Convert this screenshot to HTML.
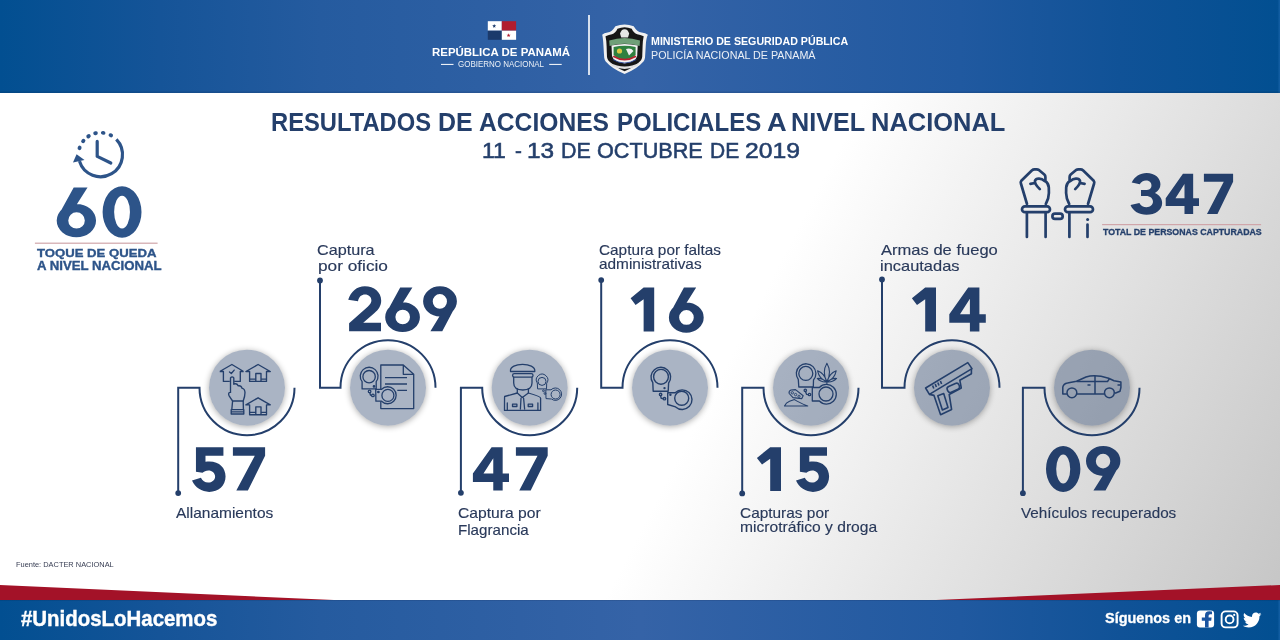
<!DOCTYPE html>
<html><head><meta charset="utf-8"><style>
html,body{margin:0;padding:0;}
body{width:1280px;height:640px;position:relative;overflow:hidden;font-family:"Liberation Sans",sans-serif;
background:linear-gradient(117.4deg,#ffffff 56.8%,#c4c4c4 100%);}
.t{position:absolute;white-space:nowrap;line-height:1;transform-origin:0 0;}
#hdr{position:absolute;left:0;top:0;width:1280px;height:92.5px;box-shadow:inset 0 -1.5px 0 rgba(10,20,50,0.13);background:linear-gradient(90deg,#024f91 0%,#155498 12.5%,#255b9f 25%,#3563a7 50%,#2059a0 75%,#105297 87.5%,#024f91 99.8%,#1560a5 100%);}
#ftr{position:absolute;left:0;top:599.6px;width:1280px;height:40.4px;box-shadow:inset 0 1px 0 rgba(10,20,50,0.12);background:linear-gradient(90deg,#024f91 0%,#155498 12.5%,#255b9f 25%,#3563a7 50%,#2059a0 75%,#105297 87.5%,#024f91 99.8%,#1560a5 100%);}
svg{position:absolute;left:0;top:0;}
</style></head><body>
<div id="hdr"></div>
<div id="ftr"></div>
<svg width="1280" height="640" viewBox="0 0 1280 640">
<defs><filter id="bl" x="-30%" y="-30%" width="160%" height="160%"><feGaussianBlur stdDeviation="3"/></filter><filter id="sh" x="-30%" y="-30%" width="160%" height="160%"><feGaussianBlur in="SourceAlpha" stdDeviation="3"/><feOffset dx="0" dy="1"/><feComponentTransfer><feFuncA type="linear" slope="0.35"/></feComponentTransfer><feMerge><feMergeNode/><feMergeNode in="SourceGraphic"/></feMerge></filter></defs>
<polygon points="0,585 334,600 0,600" fill="#a31228"/>
<polygon points="936,600 1280,585 1280,600" fill="#a31228"/>
<rect x="588.2" y="15" width="1.6" height="60" fill="#fff"/>
<rect x="441" y="63.9" width="12.5" height="1" fill="#fff"/><rect x="549.2" y="63.9" width="12.5" height="1" fill="#fff"/>
<rect x="34.9" y="242.6" width="122.7" height="1.2" fill="#d0a6aa"/>
<rect x="1102.1" y="224" width="159" height="1.2" fill="#d0a6aa"/>
<path d="M178.2 493.1 V387.7 H199.5 A47.5 47.5 0 0 0 294.5 387.7" fill="none" stroke="#243f6b" stroke-width="2"/>
<circle cx="178.2" cy="493.1" r="2.9" fill="#243f6b"/>
<mask id="mk0"><rect x="0" y="0" width="1280" height="640" fill="#fff"/><circle cx="247" cy="387.7" r="38" fill="#000"/></mask>
<circle cx="247" cy="388.7" r="38" fill="#000" opacity="0.33" filter="url(#bl)" mask="url(#mk0)"/>
<circle cx="247" cy="387.7" r="38" fill="rgba(42,67,107,0.4)"/>
<path d="M320 280.5 V387.7 H340.5 A47.5 47.5 0 0 1 435.5 387.7" fill="none" stroke="#243f6b" stroke-width="2"/>
<circle cx="320" cy="280.5" r="2.9" fill="#243f6b"/>
<mask id="mk1"><rect x="0" y="0" width="1280" height="640" fill="#fff"/><circle cx="388" cy="387.7" r="38" fill="#000"/></mask>
<circle cx="388" cy="388.7" r="38" fill="#000" opacity="0.33" filter="url(#bl)" mask="url(#mk1)"/>
<circle cx="388" cy="387.7" r="38" fill="rgba(42,67,107,0.4)"/>
<path d="M460.9 492.8 V387.7 H482.20000000000005 A47.5 47.5 0 0 0 577.2 387.7" fill="none" stroke="#243f6b" stroke-width="2"/>
<circle cx="460.9" cy="492.8" r="2.9" fill="#243f6b"/>
<mask id="mk2"><rect x="0" y="0" width="1280" height="640" fill="#fff"/><circle cx="529.7" cy="387.7" r="38" fill="#000"/></mask>
<circle cx="529.7" cy="388.7" r="38" fill="#000" opacity="0.33" filter="url(#bl)" mask="url(#mk2)"/>
<circle cx="529.7" cy="387.7" r="38" fill="rgba(42,67,107,0.4)"/>
<path d="M601.2 280.1 V387.7 H622.5 A47.5 47.5 0 0 1 717.5 387.7" fill="none" stroke="#243f6b" stroke-width="2"/>
<circle cx="601.2" cy="280.1" r="2.9" fill="#243f6b"/>
<mask id="mk3"><rect x="0" y="0" width="1280" height="640" fill="#fff"/><circle cx="670" cy="387.7" r="38" fill="#000"/></mask>
<circle cx="670" cy="388.7" r="38" fill="#000" opacity="0.33" filter="url(#bl)" mask="url(#mk3)"/>
<circle cx="670" cy="387.7" r="38" fill="rgba(42,67,107,0.4)"/>
<path d="M742.2 493.4 V387.7 H763.5 A47.5 47.5 0 0 0 858.5 387.7" fill="none" stroke="#243f6b" stroke-width="2"/>
<circle cx="742.2" cy="493.4" r="2.9" fill="#243f6b"/>
<mask id="mk4"><rect x="0" y="0" width="1280" height="640" fill="#fff"/><circle cx="811" cy="387.7" r="38" fill="#000"/></mask>
<circle cx="811" cy="388.7" r="38" fill="#000" opacity="0.33" filter="url(#bl)" mask="url(#mk4)"/>
<circle cx="811" cy="387.7" r="38" fill="rgba(42,67,107,0.4)"/>
<path d="M882 279.5 V387.7 H904.5 A47.5 47.5 0 0 1 999.5 387.7" fill="none" stroke="#243f6b" stroke-width="2"/>
<circle cx="882" cy="279.5" r="2.9" fill="#243f6b"/>
<mask id="mk5"><rect x="0" y="0" width="1280" height="640" fill="#fff"/><circle cx="952" cy="387.7" r="38" fill="#000"/></mask>
<circle cx="952" cy="388.7" r="38" fill="#000" opacity="0.33" filter="url(#bl)" mask="url(#mk5)"/>
<circle cx="952" cy="387.7" r="38" fill="rgba(42,67,107,0.4)"/>
<path d="M1022.9 493.2 V387.7 H1044.5 A47.5 47.5 0 0 0 1139.5 387.7" fill="none" stroke="#243f6b" stroke-width="2"/>
<circle cx="1022.9" cy="493.2" r="2.9" fill="#243f6b"/>
<mask id="mk6"><rect x="0" y="0" width="1280" height="640" fill="#fff"/><circle cx="1092" cy="387.7" r="38" fill="#000"/></mask>
<circle cx="1092" cy="388.7" r="38" fill="#000" opacity="0.33" filter="url(#bl)" mask="url(#mk6)"/>
<circle cx="1092" cy="387.7" r="38" fill="rgba(42,67,107,0.4)"/>
<g fill="none" stroke="#2d5489" stroke-width="3.2">
<path d="M116.33 139.42 A22 22 0 1 1 79.46 161.13"/>
<path d="M97.2 141.4 V156.4 L110.8 163" stroke-linecap="round" stroke-linejoin="round"/>
</g>
<ellipse cx="79.58" cy="147.90" rx="2.3" ry="1.95" transform="rotate(288 79.58 147.90)" fill="#2d5489"/>
<ellipse cx="83.28" cy="141.00" rx="2.3" ry="1.95" transform="rotate(308.5 83.28 141.00)" fill="#2d5489"/>
<ellipse cx="88.52" cy="136.25" rx="2.3" ry="1.95" transform="rotate(327 88.52 136.25)" fill="#2d5489"/>
<ellipse cx="95.55" cy="133.26" rx="2.3" ry="1.95" transform="rotate(347 95.55 133.26)" fill="#2d5489"/>
<ellipse cx="103.18" cy="132.86" rx="2.3" ry="1.95" transform="rotate(367 103.18 132.86)" fill="#2d5489"/>
<ellipse cx="110.83" cy="135.28" rx="2.3" ry="1.95" transform="rotate(388 110.83 135.28)" fill="#2d5489"/>
<polygon points="73,162.5 76.6,154.2 84.5,160" fill="#2d5489"/>
<g fill="none" stroke="#243f6b" stroke-width="2.7" stroke-linecap="round" stroke-linejoin="round">
<path d="M1027 204 L1020.9 183.5 Q1020.3 182 1021.3 180.8 L1031.8 170.5 Q1033 169.4 1034.6 169.4 L1036.6 169.4 Q1038 169.4 1039.2 170.2 L1044.3 174.6 Q1045.4 175.6 1045.4 177 L1045.4 181 Q1048.6 183.6 1048.8 187.5 L1048.9 193 Q1048.8 199 1045.8 204"/><path d="M1044.6 181 C1041.5 178.3 1036.2 177.6 1035 180.8 C1034.4 183 1037.5 186.8 1039.8 189.1"/><path d="M1030.4 183.8 L1035 183"/><rect x="1022" y="206.3" width="28" height="5.8" rx="2.9"/><path d="M1026.9 212.3 V237 M1045.6 212.3 V237"/>
<g transform="translate(2115 0) scale(-1 1)"><path d="M1027 204 L1020.9 183.5 Q1020.3 182 1021.3 180.8 L1031.8 170.5 Q1033 169.4 1034.6 169.4 L1036.6 169.4 Q1038 169.4 1039.2 170.2 L1044.3 174.6 Q1045.4 175.6 1045.4 177 L1045.4 181 Q1048.6 183.6 1048.8 187.5 L1048.9 193 Q1048.8 199 1045.8 204"/><path d="M1044.6 181 C1041.5 178.3 1036.2 177.6 1035 180.8 C1034.4 183 1037.5 186.8 1039.8 189.1"/><path d="M1030.4 183.8 L1035 183"/><rect x="1022" y="206.3" width="28" height="5.8" rx="2.9"/><path d="M1045.6 212.3 V237 M1027.5 224.5 V237"/></g>
<rect x="1052.4" y="213.6" width="10.3" height="5.2" rx="2.6"/>
</g>
<circle cx="1087.6" cy="219.6" r="1.5" fill="#243f6b"/>
<g fill="none" stroke="#243f6b" stroke-width="1.35" stroke-linejoin="round">
<path d="M245.90000000000003 371.5 H249.60000000000002 V381.4 H266.5 V371.5 H270.3 L258.1 364.5 Z"/><path d="M255.8 381.4 V373.5 H261.0 V381.4 M249.60000000000002 379.1 H255.8 M261.0 379.1 H266.5"/>
<path d="M245.90000000000003 404.8 H249.60000000000002 V414.7 H266.5 V404.8 H270.3 L258.1 397.8 Z"/><path d="M255.8 414.7 V406.8 H261.0 V414.7 M249.60000000000002 412.40000000000003 H255.8 M261.0 412.40000000000003 H266.5"/>
<path d="M219.7 371.5 L231.9 364.5 L243.6 371.5 M219.7 371.5 H223.4 V381.4 H229.8 M234.2 381.4 H240.3 V371.5 H243.6"/>
<path d="M229.5 372 L231.3 373.5 L234.2 370.1" stroke-linecap="round"/>
<path d="M230.5 393 V378 Q232.1 375.8 233.8 378 V384.2 Q236.6 382.8 238.3 385.8 Q241 385.2 242.2 388.4 Q244.8 388.8 245 392.6 Q245 396.5 243.2 401 H232.6 Q230.5 398 229 395.6 Q227.8 392.6 230.5 391.8"/>
<path d="M232.6 401 L231.8 409.6 M243.2 401 L243.4 409.6 M231.2 409.6 H243.8 V414 H231.2 Z M231.2 411.9 H243.8"/>
</g>
<g fill="none" stroke="#243f6b" stroke-width="1.3" stroke-linejoin="round">
<path d="M380.8 365 H403.3 L413.7 374.3 V408.6 H380.8 Z M403.3 365 V374.3 H413.7"/>
<path d="M385 377.6 H407 M385 384 H407 M397.3 390.3 H407"/>
<path d="M362.1 381.6 A8.9 8.9 0 1 1 376.2 381.6 V388.9 H362.1 Z"/>
<circle cx="369.1" cy="376.7" r="6.2"/>
<circle cx="369.6" cy="391.4" r="1.3"/><circle cx="372.9" cy="395.4" r="1.3"/><path d="M369.8 392.7 L370.5 395.2 L371.6 395.4"/>
<path d="M375.7 389.3 H381.6 A8.5 8.5 0 1 1 381.6 401.2 H375.9 Z" fill="#a9b3c5"/>
<circle cx="387.9" cy="395.4" r="6"/>
<circle cx="374" cy="386.4" r="0.7" fill="#243f6b"/><circle cx="378.4" cy="392" r="0.7" fill="#243f6b"/>
</g>
<g fill="none" stroke="#243f6b" stroke-width="1.3" stroke-linejoin="round" stroke-linecap="round">
<path d="M510.5 371.5 C509 362 536 362 534.8 371.5 Z"/>
<rect x="512.6" y="373.6" width="20.4" height="3.6" rx="1.6"/>
<path d="M513.7 377.4 V383 Q513.7 389.8 522.8 390 Q532 389.8 532 383 V377.4"/>
<path d="M517.3 389 V393 L504.6 396.5 Q504.5 398 504.5 410.4 H540.6 V398 Q540.6 396.5 528.4 393 V389"/>
<path d="M517.3 393 L522.3 397.5 L528.4 393 M521 398.2 L520.4 409 M523.6 398.2 L524.6 409 M507.3 403 V410 M537.9 403 V410"/>
<rect x="512.5" y="404.2" width="4.4" height="2.3"/><rect x="528.2" y="404.2" width="4.4" height="2.3"/>
</g><g fill="none" stroke="#243f6b" stroke-width="1.0" stroke-linejoin="round">
<path d="M537.3 383 A5.7 5.7 0 1 1 546.7 383.2 L546.5 388.9 H537.6 Z"/>
<circle cx="542" cy="381.4" r="4"/>
<path d="M545.8 389.8 H551 A6.2 6.2 0 1 1 551.5 399 L546 398.6 Z"/>
<circle cx="555.6" cy="394.5" r="4.5"/>
<circle cx="543.5" cy="390.8" r="0.9"/><circle cx="545" cy="393.5" r="0.9"/>
</g>
<g fill="none" stroke="#243f6b" stroke-width="1.4" stroke-linejoin="round">
<path d="M652.8 382.7 A9.8 9.8 0 1 1 668.6 383 L668.2 391.2 H653.2 Z"/>
<circle cx="661" cy="376.8" r="7.4"/>
<circle cx="660.6" cy="394.4" r="1.2"/><circle cx="664.5" cy="398.7" r="1.2"/><path d="M660.6 395.6 L661.2 398.3 L663.3 398.7"/>
<path d="M667.7 392.8 H675.2 A9.8 9.8 0 1 1 675.6 406.9 L667.7 404.5 Z"/>
<circle cx="681.7" cy="398.3" r="7"/>
</g>
<circle cx="664.5" cy="388.1" r="1.2" fill="#243f6b"/><circle cx="670.4" cy="394.8" r="1.2" fill="#243f6b"/>
<g fill="none" stroke="#243f6b" stroke-width="1.3" stroke-linejoin="round">
<path d="M798.3 379.5 A9.8 9.8 0 1 1 813.5 380 L813.3 387 H798.8 Z"/>
<circle cx="805.8" cy="373.4" r="7"/>
<circle cx="805.3" cy="390.3" r="1.2"/><circle cx="809.5" cy="394.5" r="1.2"/><path d="M805.5 391.5 L806.5 394.3 L808.3 394.6"/>
<path d="M812.3 387.5 H819.4 A9.8 9.8 0 1 1 819.4 401 H812.3 Z"/>
<circle cx="826" cy="394" r="7"/>
<path d="M826.90 381.50 Q832.10 372.40 826.90 363.30 Q821.70 372.40 826.90 381.50 Z M826.40 381.50 Q824.93 373.74 817.60 370.80 Q819.07 378.56 826.40 381.50 Z M827.40 381.50 Q834.73 378.56 836.20 370.80 Q828.87 373.74 827.40 381.50 Z M826.20 382.00 Q822.59 377.97 817.20 378.40 Q820.81 382.43 826.20 382.00 Z M827.60 382.00 Q832.99 382.43 836.60 378.40 Q831.21 377.97 827.60 382.00 Z M826.9 382 V384.5" stroke-width="1.05"/>
<path d="M789.2 393.5 Q788.5 391 791 390 L795.5 389.6 L803.2 395.8 L801.8 398.6 L793 397.6 Z" stroke-width="1.1"/>
<circle cx="792.3" cy="392.8" r="1.2" stroke-width="0.9"/><circle cx="795.6" cy="394.6" r="1.2" stroke-width="0.9"/><circle cx="799" cy="396.3" r="1.1" stroke-width="0.9"/>
<path d="M784.5 406 Q786 402.5 789.5 401.3 L794.5 399.6 Q799 402.5 807.7 406 Z" stroke-width="1.1"/>
</g>
<g fill="none" stroke="#243f6b" stroke-width="1.6" stroke-linejoin="round">
<path d="M925.6 388 L967.8 362.6 L972 368.6 L929.4 394.4 Z"/>
<path d="M971.4 369 V373.8 L959.8 380.2 L961.3 388 L949.2 394.5 L951.6 409.5 L940.6 414.7 L934 395.4 L929.4 394.4"/>
<path d="M937.8 395.8 L943.7 393.6 L948 407.5 L942.4 410 Z"/>
<rect x="947" y="384.7" width="12.6" height="6.3" rx="2.6" transform="rotate(-24 953.3 387.8)"/>
<path d="M932.6 385.5 L933.8 388.5 M935.2 384 L936.4 387 M937.8 382.5 L939 385.5 M940.4 381 L941.6 384"/>
</g>
<g fill="none" stroke="#243f6b" stroke-width="1.5" stroke-linejoin="round">
<path d="M1066.9 394.1 H1062.8 V387.2 Q1063.5 383.6 1067.5 383 L1076.6 381.3 L1086 377 Q1095 374 1108.6 378.2 L1114 380.8 L1120.9 382 V387.5 L1120 391.2 L1115 393.3"/>
<path d="M1077 394.1 H1104.5 M1076.6 381.5 H1107.5 L1109.5 378.6 M1095 376 V394.1 M1087.5 385 H1090.5 M1117.5 385 H1120.5"/>
<circle cx="1071.9" cy="392.8" r="4.9"/><circle cx="1109.4" cy="392.8" r="4.9"/>
</g>
<rect x="487.8" y="21.2" width="14" height="9.5" fill="#ffffff"/><rect x="501.8" y="21.2" width="14.3" height="9.5" fill="#b01d2e"/><rect x="487.8" y="30.7" width="14" height="9.1" fill="#1b3a6b"/><rect x="501.8" y="30.7" width="14.3" height="9.1" fill="#ffffff"/><polygon points="494.20,23.90 494.72,25.29 496.20,25.35 495.04,26.27 495.43,27.70 494.20,26.88 492.97,27.70 493.36,26.27 492.20,25.35 493.68,25.29" fill="#1b3a6b"/><polygon points="508.60,33.30 509.12,34.69 510.60,34.75 509.44,35.67 509.83,37.10 508.60,36.28 507.37,37.10 507.76,35.67 506.60,34.75 508.08,34.69" fill="#b01d2e"/>
<path d="M602.2 34.8 Q604 33 607.5 32.6 Q612 31.8 615.4 26.2 Q620 24.8 624.6 24.6 Q629.2 24.8 633.7 26.2 Q637 31.8 641.6 32.6 Q645.5 33 647.9 34.8 Q646.2 38 645.8 45 Q645.4 52 645 57.7 Q644.6 60 643.5 61.5 Q637 69 624.6 74 Q612.2 69 605.7 61.5 Q604.6 60 604.2 57.7 Q603.8 52 603.4 45 Q603 38 602.2 34.8 Z" fill="#f0f0f0"/>
<path d="M605.5 36.2 Q609 35 612 34.3 Q615.5 33.2 617.5 28.8 Q621 27.4 624.6 27.3 Q628.2 27.4 631.7 28.8 Q633.7 33.2 637.2 34.3 Q640.2 35 643.7 36.2 Q642.8 40 642.6 46 Q642.4 52 642.2 57 Q641.8 59.3 640.8 60.6 Q635 67 624.6 71.3 Q614.2 67 608.4 60.6 Q607.4 59.3 607 57 Q606.8 52 606.6 46 Q606.4 40 605.5 36.2 Z" fill="#161616"/>
<path d="M609.2 40.5 Q624.6 35.5 640 40.5 L639.6 46 Q624.6 41.5 609.6 46 Z" fill="#6f9f78"/>
<path d="M611.5 45.6 Q624.6 42.6 637.7 45.6 L637.2 56 Q636 61.5 624.6 63.5 Q613.2 61.5 612 56 Z" fill="#f2f2f2"/>
<path d="M613.6 47 Q624.6 44.6 635.6 47 V54.5 Q634.5 58.5 624.6 59.6 Q614.7 58.5 613.6 54.5 Z" fill="#2f8040"/>
<path d="M613.2 56.2 Q624.6 63 636 56.2" stroke="#b8202e" stroke-width="1.6" fill="none"/>
<path d="M612.8 59.5 Q624.6 66.5 636.4 59.5" stroke="#2e4a9a" stroke-width="0.9" fill="none"/>
<path d="M609.5 62.5 Q624.6 70.5 639.7 62.5 L637 66 Q624.6 72 612.2 66 Z" fill="#e0e0e0"/>
<path d="M620 33.5 Q621.5 29 624.6 29.2 Q627.7 29 629.2 33.5 L628 37.5 H621.2 Z" fill="#e6e6e6"/>
<circle cx="619.5" cy="51" r="2.6" fill="#d8c640"/><path d="M626 49 Q631 47.5 633.5 51 L629 55.5 Z" fill="#f0f0f0"/>
<rect x="1196.9" y="610.4" width="17.2" height="17.1" rx="3.2" fill="#ffffff"/>
<path d="M1205 627.5 V620.8 H1201.8 V617.6 H1205 V615.3 Q1205 611.2 1209.3 611.2 Q1210.8 611.2 1212 611.5 V614.3 H1210.2 Q1208.6 614.3 1208.6 615.8 V617.6 H1211.6 L1211.2 620.8 H1208.6 V627.5 Z" fill="#1b55a0"/>
<rect x="1221.6" y="611.4" width="16" height="16" rx="4" fill="none" stroke="#ffffff" stroke-width="1.9"/>
<circle cx="1229.6" cy="619.4" r="3.9" fill="none" stroke="#ffffff" stroke-width="1.9"/>
<circle cx="1234.2" cy="614.9" r="1.1" fill="#ffffff"/>
<path transform="translate(1242.9 612.2) scale(0.77)" fill="#ffffff" d="M24 2.6c-.9.4-1.8.6-2.8.8 1-.6 1.8-1.6 2.2-2.7-1 .6-2 1-3.1 1.2C19.4.9 18.1.3 16.7.3c-2.7 0-4.9 2.2-4.9 4.9 0 .4 0 .8.1 1.1C7.8 6.1 4.2 4.1 1.7 1.2c-.4.7-.7 1.6-.7 2.5 0 1.7.9 3.2 2.2 4.1-.8 0-1.6-.2-2.2-.6v.1c0 2.4 1.7 4.4 3.9 4.8-.4.1-.8.2-1.3.2-.3 0-.6 0-.9-.1.6 2 2.4 3.4 4.6 3.4-1.7 1.3-3.8 2.1-6.1 2.1-.4 0-.8 0-1.2-.1 2.2 1.4 4.8 2.2 7.5 2.2 9.1 0 14-7.5 14-14v-.6c1-.7 1.8-1.6 2.5-2.5z"/>
<path transform="translate(56.70 187.60) scale(1.1340 1.1169)" fill="#2d5489" fill-rule="nonzero" d="M0.00 29.55 A17.35 14.95 0 1 1 34.70 29.55 A17.35 14.95 0 1 1 0.00 29.55 Z M10.20 29.40 A7.30 7.30 0 1 0 24.80 29.40 A7.30 7.30 0 1 0 10.20 29.40 Z M15 0 H27.2 L17.8 14.8 L6 22 L0.8 26 Z"/>
<path transform="translate(102.60 186.20) scale(1.1475 1.1467)" fill="#2d5489" fill-rule="nonzero" d="M0.00 22.50 A16.95 22.50 0 1 1 33.90 22.50 A16.95 22.50 0 1 1 0.00 22.50 Z M10.05 22.60 A6.90 14.20 0 1 0 23.85 22.60 A6.90 14.20 0 1 0 10.05 22.60 Z"/>
<path transform="translate(1130.50 172.90) scale(0.9984 1.0000)" fill="#243f6b" fill-rule="evenodd" d="M1.2 9.7 C4 3.5 9.5 0 16.2 0 C24.5 0 30 5.2 30 11.3 C30 15 28 18.2 24.5 20 C28.8 21.8 31.7 25.5 31.7 30 C31.7 37 25 41.8 16 41.8 C8.5 41.8 2.5 38.2 0 32.1 L8.9 30 C10.5 33 13 34.3 16 34.3 C19.8 34.3 22.5 32 22.5 28.7 C22.5 25.3 19.8 23 15.5 23 H10.5 V17.2 H15.2 C18.8 17.2 21 15.3 21 12.5 C21 9.5 18.6 7.6 15.5 7.6 C12.8 7.6 10.5 9.1 9.3 11.4 Z"/>
<path transform="translate(1165.70 173.70) scale(0.9123 0.9178)" fill="#243f6b" fill-rule="evenodd" d="M0 26.65 L18.9 0 H30.1 V26.65 H36.5 V35.2 H30.1 V43.8 H20.6 V35.2 H0 Z M10.7 26.65 H20.6 V11.2 Z"/>
<path transform="translate(1203.90 173.70) scale(0.9068 0.9263)" fill="#243f6b" fill-rule="evenodd" d="M0 0 H32.2 V8.6 L15 43.4 H3.4 L21.9 8.6 H0 Z"/>
<path transform="translate(192.00 447.20) scale(1.0136 1.0000)" fill="#243f6b" fill-rule="evenodd" d="M3.9 0 H31 V8.6 H13.3 V14.6 C26 12.8 33.1 20 33.1 29.4 C33.1 38.8 26 44.7 17 44.7 C9.8 44.7 3 40.6 0 33.4 L8.8 30.6 C10.2 33.6 12.8 35.3 15.9 35.3 C19.8 35.3 22.8 32.6 22.8 29.2 C22.8 25.8 19.8 23.2 16.2 23.2 C13.8 23.2 11.6 24.2 10.4 25.6 L3.9 24.5 Z"/>
<path transform="translate(232.90 447.20) scale(1.0000 1.0000)" fill="#243f6b" fill-rule="evenodd" d="M0 0 H32.2 V8.6 L15 43.4 H3.4 L21.9 8.6 H0 Z"/>
<path transform="translate(348.20 286.20) scale(1.0000 1.0000)" fill="#243f6b" fill-rule="evenodd" d="M0 13.6 C2.5 5.3 8.8 0 16.6 0 C26 0 33 6 33 14.3 C33 19.5 30.5 23.3 26 27 L15 36.6 H32.8 V45 H0.9 V37 L19.5 20.5 C22 18.3 23.2 16.5 23.2 14.3 C23.2 10.8 20.4 8.4 16.8 8.4 C13.3 8.4 10.8 10.5 9.8 15 Z"/>
<path transform="translate(385.20 287.60) scale(1.0000 1.0000)" fill="#243f6b" fill-rule="nonzero" d="M0.00 29.55 A17.35 14.95 0 1 1 34.70 29.55 A17.35 14.95 0 1 1 0.00 29.55 Z M10.20 29.40 A7.30 7.30 0 1 0 24.80 29.40 A7.30 7.30 0 1 0 10.20 29.40 Z M15 0 H27.2 L17.8 14.8 L6 22 L0.8 26 Z"/>
<path transform="translate(456.90 331.20) scale(-0.9741 -1.0112)" fill="#243f6b" fill-rule="nonzero" d="M0.00 29.55 A17.35 14.95 0 1 1 34.70 29.55 A17.35 14.95 0 1 1 0.00 29.55 Z M10.20 29.40 A7.30 7.30 0 1 0 24.80 29.40 A7.30 7.30 0 1 0 10.20 29.40 Z M15 0 H27.2 L17.8 14.8 L6 22 L0.8 26 Z"/>
<path transform="translate(472.90 447.20) scale(0.9890 0.9909)" fill="#243f6b" fill-rule="evenodd" d="M0 26.65 L18.9 0 H30.1 V26.65 H36.5 V35.2 H30.1 V43.8 H20.6 V35.2 H0 Z M10.7 26.65 H20.6 V11.2 Z"/>
<path transform="translate(515.90 447.20) scale(0.9876 1.0000)" fill="#243f6b" fill-rule="evenodd" d="M0 0 H32.2 V8.6 L15 43.4 H3.4 L21.9 8.6 H0 Z"/>
<path transform="translate(630.60 287.60) scale(0.9793 1.0000)" fill="#243f6b" fill-rule="evenodd" d="M0 10.7 L13.3 0 H24.1 V43.8 H13.3 V11.6 L5.1 17.4 Z"/>
<path transform="translate(668.90 287.60) scale(1.0029 1.0135)" fill="#243f6b" fill-rule="nonzero" d="M0.00 29.55 A17.35 14.95 0 1 1 34.70 29.55 A17.35 14.95 0 1 1 0.00 29.55 Z M10.20 29.40 A7.30 7.30 0 1 0 24.80 29.40 A7.30 7.30 0 1 0 10.20 29.40 Z M15 0 H27.2 L17.8 14.8 L6 22 L0.8 26 Z"/>
<path transform="translate(756.90 447.20) scale(1.0000 1.0000)" fill="#243f6b" fill-rule="evenodd" d="M0 10.7 L13.3 0 H24.1 V43.8 H13.3 V11.6 L5.1 17.4 Z"/>
<path transform="translate(796.00 447.20) scale(1.0000 1.0000)" fill="#243f6b" fill-rule="evenodd" d="M3.9 0 H31 V8.6 H13.3 V14.6 C26 12.8 33.1 20 33.1 29.4 C33.1 38.8 26 44.7 17 44.7 C9.8 44.7 3 40.6 0 33.4 L8.8 30.6 C10.2 33.6 12.8 35.3 15.9 35.3 C19.8 35.3 22.8 32.6 22.8 29.2 C22.8 25.8 19.8 23.2 16.2 23.2 C13.8 23.2 11.6 24.2 10.4 25.6 L3.9 24.5 Z"/>
<path transform="translate(911.90 287.60) scale(1.0000 1.0000)" fill="#243f6b" fill-rule="evenodd" d="M0 10.7 L13.3 0 H24.1 V43.8 H13.3 V11.6 L5.1 17.4 Z"/>
<path transform="translate(949.30 287.60) scale(1.0000 1.0000)" fill="#243f6b" fill-rule="evenodd" d="M0 26.65 L18.9 0 H30.1 V26.65 H36.5 V35.2 H30.1 V43.8 H20.6 V35.2 H0 Z M10.7 26.65 H20.6 V11.2 Z"/>
<path transform="translate(1046.00 445.90) scale(1.0147 1.0222)" fill="#243f6b" fill-rule="nonzero" d="M0.00 22.50 A16.95 22.50 0 1 1 33.90 22.50 A16.95 22.50 0 1 1 0.00 22.50 Z M10.05 22.60 A6.90 14.20 0 1 0 23.85 22.60 A6.90 14.20 0 1 0 10.05 22.60 Z"/>
<path transform="translate(1120.40 490.60) scale(-0.9914 -1.0045)" fill="#243f6b" fill-rule="nonzero" d="M0.00 29.55 A17.35 14.95 0 1 1 34.70 29.55 A17.35 14.95 0 1 1 0.00 29.55 Z M10.20 29.40 A7.30 7.30 0 1 0 24.80 29.40 A7.30 7.30 0 1 0 10.20 29.40 Z M15 0 H27.2 L17.8 14.8 L6 22 L0.8 26 Z"/>
</svg>
<div class="t" style="left:431.90px;top:46.77px;font-size:11.43px;font-weight:bold;color:#fff;transform:scaleX(1.0027);">REPÚBLICA DE PANAMÁ</div>
<div class="t" style="left:457.80px;top:60.36px;font-size:8.71px;font-weight:normal;color:rgba(255,255,255,0.9);transform:scaleX(0.9159);">GOBIERNO NACIONAL</div>
<div class="t" style="left:651.15px;top:36.29px;font-size:11.29px;font-weight:bold;color:#fff;transform:scaleX(0.9448);">MINISTERIO DE SEGURIDAD PÚBLICA</div>
<div class="t" style="left:651.04px;top:50.01px;font-size:10.57px;font-weight:normal;color:rgba(255,255,255,0.9);transform:scaleX(1.0154);">POLICÍA NACIONAL DE PANAMÁ</div>
<div class="t" style="left:270.54px;top:109.83px;font-size:25.43px;font-weight:bold;color:#243f6b;transform:scaleX(0.9342);">RESULTADOS</div>
<div class="t" style="left:438.26px;top:109.83px;font-size:25.43px;font-weight:bold;color:#243f6b;transform:scaleX(0.9801);">DE</div>
<div class="t" style="left:479.46px;top:109.83px;font-size:25.43px;font-weight:bold;color:#243f6b;transform:scaleX(0.9692);">ACCIONES</div>
<div class="t" style="left:616.72px;top:109.83px;font-size:25.43px;font-weight:bold;color:#243f6b;transform:scaleX(0.9454);">POLICIALES</div>
<div class="t" style="left:766.58px;top:109.83px;font-size:25.43px;font-weight:bold;color:#243f6b;transform:scaleX(1.0725);">A</div>
<div class="t" style="left:790.94px;top:109.83px;font-size:25.43px;font-weight:bold;color:#243f6b;transform:scaleX(0.9907);">NIVEL</div>
<div class="t" style="left:871.12px;top:109.83px;font-size:25.43px;font-weight:bold;color:#243f6b;transform:scaleX(1.0014);">NACIONAL</div>
<div class="t" style="left:481.53px;top:139.56px;font-size:22.00px;font-weight:normal;color:#243f6b;transform:scaleX(1.0465);-webkit-text-stroke:0.55px #243f6b;">11</div>
<div class="t" style="left:514.75px;top:139.56px;font-size:22.00px;font-weight:normal;color:#243f6b;transform:scaleX(0.9364);-webkit-text-stroke:0.55px #243f6b;">-</div>
<div class="t" style="left:526.92px;top:139.56px;font-size:22.00px;font-weight:normal;color:#243f6b;transform:scaleX(1.1088);-webkit-text-stroke:0.55px #243f6b;">13</div>
<div class="t" style="left:560.76px;top:139.56px;font-size:22.00px;font-weight:normal;color:#243f6b;transform:scaleX(0.9753);-webkit-text-stroke:0.55px #243f6b;">DE</div>
<div class="t" style="left:596.79px;top:139.56px;font-size:22.00px;font-weight:normal;color:#243f6b;transform:scaleX(0.9834);-webkit-text-stroke:0.55px #243f6b;">OCTUBRE</div>
<div class="t" style="left:709.50px;top:139.56px;font-size:22.00px;font-weight:normal;color:#243f6b;transform:scaleX(0.9538);-webkit-text-stroke:0.55px #243f6b;">DE</div>
<div class="t" style="left:744.74px;top:139.56px;font-size:22.00px;font-weight:normal;color:#243f6b;transform:scaleX(1.1236);-webkit-text-stroke:0.55px #243f6b;">2019</div>
<div class="t" style="left:36.94px;top:247.09px;font-size:11.79px;font-weight:bold;color:#2d5489;transform:scaleX(1.1149);-webkit-text-stroke:0.35px #2d5489;">TOQUE DE QUEDA</div>
<div class="t" style="left:36.68px;top:260.57px;font-size:11.93px;font-weight:bold;color:#2d5489;transform:scaleX(1.1071);-webkit-text-stroke:0.35px #2d5489;">A NIVEL NACIONAL</div>
<div class="t" style="left:1102.56px;top:227.71px;font-size:9.00px;font-weight:bold;color:#243f6b;transform:scaleX(0.9766);-webkit-text-stroke:0.3px #243f6b;">TOTAL DE PERSONAS CAPTURADAS</div>
<div class="t" style="left:176.47px;top:504.73px;font-size:15.00px;font-weight:normal;color:#29395a;transform:scaleX(1.0320);-webkit-text-stroke:0.15px #29395a;">Allanamientos</div>
<div class="t" style="left:317.37px;top:241.93px;font-size:15.00px;font-weight:normal;color:#29395a;transform:scaleX(1.0779);-webkit-text-stroke:0.15px #29395a;">Captura</div>
<div class="t" style="left:317.64px;top:257.73px;font-size:15.00px;font-weight:normal;color:#29395a;transform:scaleX(1.1490);-webkit-text-stroke:0.15px #29395a;">por oficio</div>
<div class="t" style="left:458.39px;top:504.62px;font-size:15.00px;font-weight:normal;color:#29395a;transform:scaleX(1.0435);-webkit-text-stroke:0.15px #29395a;">Captura por</div>
<div class="t" style="left:457.96px;top:522.23px;font-size:15.00px;font-weight:normal;color:#29395a;transform:scaleX(1.0102);-webkit-text-stroke:0.15px #29395a;">Flagrancia</div>
<div class="t" style="left:598.91px;top:241.83px;font-size:15.00px;font-weight:normal;color:#29395a;transform:scaleX(1.0233);-webkit-text-stroke:0.15px #29395a;">Captura por faltas</div>
<div class="t" style="left:599.06px;top:256.03px;font-size:15.00px;font-weight:normal;color:#29395a;transform:scaleX(1.0253);-webkit-text-stroke:0.15px #29395a;">administrativas</div>
<div class="t" style="left:739.90px;top:504.62px;font-size:15.00px;font-weight:normal;color:#29395a;transform:scaleX(1.0274);-webkit-text-stroke:0.15px #29395a;">Capturas por</div>
<div class="t" style="left:739.58px;top:518.92px;font-size:15.00px;font-weight:normal;color:#29395a;transform:scaleX(1.0413);-webkit-text-stroke:0.15px #29395a;">microtráfico y droga</div>
<div class="t" style="left:880.68px;top:241.83px;font-size:15.00px;font-weight:normal;color:#29395a;transform:scaleX(1.1030);-webkit-text-stroke:0.15px #29395a;">Armas de fuego</div>
<div class="t" style="left:879.82px;top:258.03px;font-size:15.00px;font-weight:normal;color:#29395a;transform:scaleX(1.0958);-webkit-text-stroke:0.15px #29395a;">incautadas</div>
<div class="t" style="left:1021.17px;top:504.82px;font-size:15.00px;font-weight:normal;color:#29395a;transform:scaleX(1.0174);-webkit-text-stroke:0.15px #29395a;">Vehículos recuperados</div>
<div class="t" style="left:20.79px;top:608.97px;font-size:21.43px;font-weight:bold;color:#fff;transform:scaleX(0.9534);-webkit-text-stroke:0.4px #fff;">#UnidosLoHacemos</div>
<div class="t" style="left:1104.52px;top:610.27px;font-size:15.50px;font-weight:bold;color:#fff;transform:scaleX(0.9336);-webkit-text-stroke:0.3px #fff;">Síguenos en</div>
<div class="t" style="left:15.51px;top:561.09px;font-size:7.57px;font-weight:normal;color:#363c52;transform:scaleX(0.9810);">Fuente: DACTER NACIONAL</div>
</body></html>
